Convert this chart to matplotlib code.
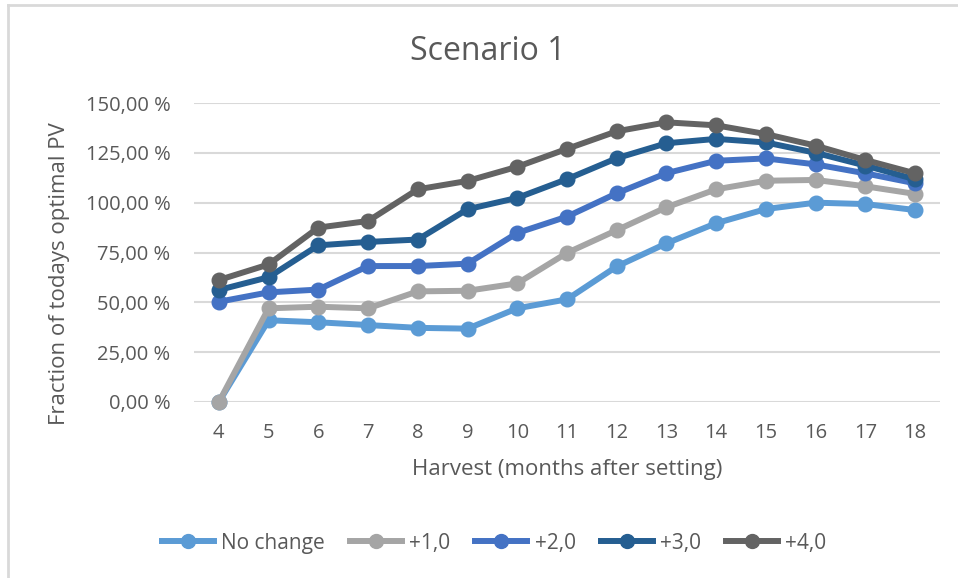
import matplotlib
matplotlib.use("Agg")
import matplotlib.pyplot as plt
from matplotlib.lines import Line2D

plt.rcParams['font.family'] = ['Open Sans', 'DejaVu Sans']

# harvest month (months after setting)
months = [4, 5, 6, 7, 8, 9, 10, 11, 12, 13, 14, 15, 16, 17, 18]

# fraction of today's optimal PV, in percent
no_change = [0, 41, 40, 38.6, 37.2, 36.8, 47, 51.5, 68, 79.6, 89.7, 96.8, 100, 99.3, 96.3]
plus_1 = [0, 47, 47.8, 47, 55.5, 55.8, 59.5, 74.8, 86.2, 97.7, 106.7, 111, 111.4, 108.2, 104.4]
plus_2 = [50.3, 55, 56.4, 68.2, 68.2, 69.4, 84.8, 93, 104.7, 114.8, 121, 122.2, 119.2, 114.7, 109.7]
plus_3 = [56.2, 62.6, 78.6, 80.3, 81.5, 96.7, 102.4, 111.8, 122.3, 129.8, 132, 130.2, 125, 118.6, 111.7]
plus_4 = [61.2, 69, 87.5, 90.8, 106.7, 110.9, 118, 127, 135.8, 140.3, 138.8, 134.4, 128.6, 121.4, 114.7]

series_names = ["No change", "+1,0", "+2,0", "+3,0", "+4,0"]
series_values = [no_change, plus_1, plus_2, plus_3, plus_4]
colors = ["#5B9BD5", "#A5A5A5", "#4472C4", "#255E91", "#636363"]

y_ticks = [0, 25, 50, 75, 100, 125, 150]
text_grey = "#595959"
grid_grey = "#D9D9D9"

W, H = 958, 578
fig = plt.figure(figsize=(W / 100, H / 100), dpi=100)
fig.patch.set_facecolor("white")

# plot area in pixels: left 194, right 940, top 103, bottom 402
ax = fig.add_axes([194 / W, (H - 402) / H, (940 - 194) / W, (402 - 103) / H])

for name, vals, c in zip(series_names, series_values, colors):
    ax.plot(months, vals, color=c, lw=4.3, marker="o", ms=10.5,
            solid_capstyle="round", label=name, clip_on=False, zorder=3)

ax.set_xlim(3.5, 18.5)
ax.set_ylim(0, 150)
ax.set_xticks(months)
ax.set_yticks(y_ticks)
ax.set_yticklabels([f"{v:.2f}".replace(".", ",") + " %" for v in y_ticks])
ax.tick_params(length=0, labelsize=14.5, colors=text_grey)
ax.tick_params(axis="y", pad=17)
ax.tick_params(axis="x", pad=15)
ax.grid(axis="y", color=grid_grey, lw=1.5, zorder=0)
ax.set_axisbelow(True)
for s in ax.spines.values():
    s.set_visible(False)

fig.text(488 / W, 1 - 51 / H, "Scenario 1", ha="center", va="center",
         fontsize=23, color=text_grey)
fig.text(567 / W, 1 - 470 / H, "Harvest (months after setting)", ha="center",
         va="center", fontsize=16, color=text_grey)
fig.text(60 / W, 1 - 274 / H, "Fraction of todays optimal PV", ha="center",
         va="center", rotation=90, fontsize=16, color=text_grey)

handles = [Line2D([], [], color=c, lw=4.3, marker="o", ms=10) for c in colors]
leg = fig.legend(handles, series_names, loc="center", ncol=5,
                 bbox_to_anchor=(494 / W, 1 - 543 / H), frameon=False,
                 fontsize=15, handlelength=2.5, handletextpad=0.35,
                 columnspacing=1.2)
for t in leg.get_texts():
    t.set_color(text_grey)

# chart border (left and top edges)
fig.add_artist(Line2D([8 / W, 8 / W], [0, 1 - 5 / H], color=grid_grey, lw=2))
fig.add_artist(Line2D([8 / W, 1], [1 - 5 / H, 1 - 5 / H], color=grid_grey, lw=2))

fig.savefig("out.png", dpi=100)
